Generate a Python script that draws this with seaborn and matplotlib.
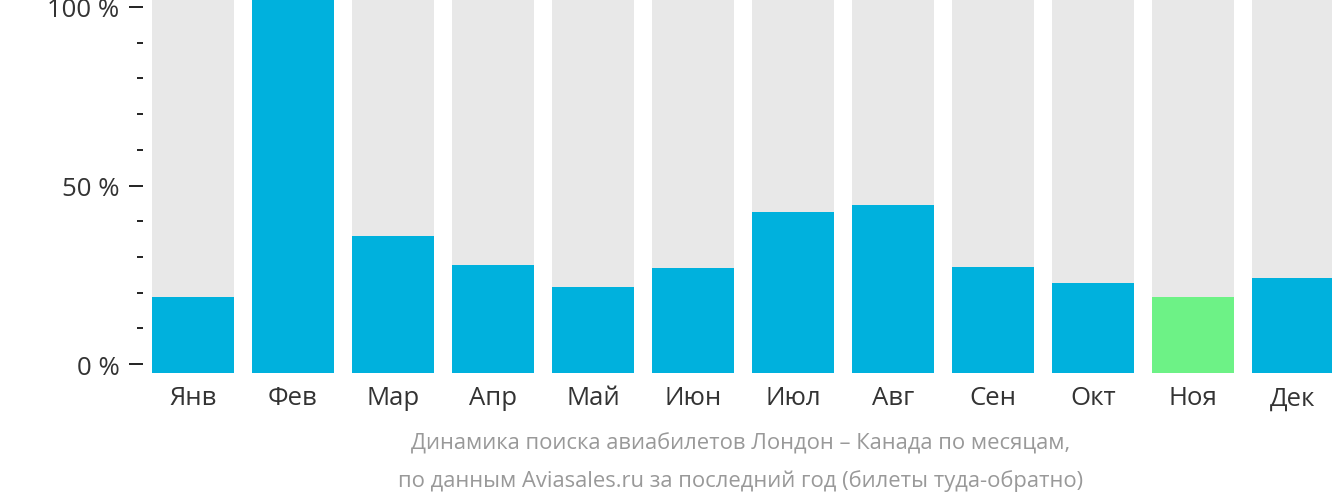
import matplotlib
matplotlib.use("Agg")
import matplotlib.pyplot as plt
import seaborn as sns
import pandas as pd
import numpy as np
from matplotlib.ticker import FuncFormatter, FixedLocator

months = ["Янв", "Фев", "Мар", "Апр", "Май", "Июн", "Июл", "Авг", "Сен", "Окт", "Ноя", "Дек"]
values = [18.8, 102.2, 35.9, 27.7, 21.6, 26.9, 42.6, 44.5, 27.2, 22.7, 18.8, 24.1]
highlight = ["base"] * 10 + ["low"] + ["base"]
title_lines = ["Динамика поиска авиабилетов Лондон – Канада по месяцам,",
               "по данным Aviasales.ru за последний год (билеты туда-обратно)"]

Y_MIN, Y_MAX = -2.52, 102.24
BLUE, GREEN, GREY = "#00B1DD", "#6DF286", "#E8E8E8"

sns.set_theme(style="white")
plt.rcParams['font.family'] = ['Open Sans', 'DejaVu Sans']

df = pd.DataFrame({"month": months, "value": values, "kind": highlight})
df["shown"] = df["value"] - Y_MIN
df["full"] = Y_MAX - Y_MIN

fig = plt.figure(figsize=(13.32, 5.02), dpi=100)
ax = fig.add_axes([143 / 1332, 128 / 502, 1200 / 1332, 374 / 502])

sns.barplot(data=df, x="month", y="full", color=GREY, width=0.82, ax=ax,
            saturation=1, edgecolor="none", linewidth=0)
sns.barplot(data=df, x="month", y="shown", hue="kind", palette={"base": BLUE, "low": GREEN},
            width=0.82, ax=ax, saturation=1, edgecolor="none", linewidth=0, legend=False,
            dodge=False)

ax.set_xlim(-0.5, 11.5)
ax.set_ylim(0, Y_MAX - Y_MIN)
ax.yaxis.set_major_locator(FixedLocator([v - Y_MIN for v in (0, 50, 100)]))
ax.yaxis.set_minor_locator(FixedLocator([v - Y_MIN for v in range(10, 100, 10) if v != 50]))
ax.yaxis.set_major_formatter(FuncFormatter(lambda v, p: f"{round(v + Y_MIN):d} %"))
for s in ax.spines.values():
    s.set_visible(False)
ax.set_xlabel("")
ax.set_ylabel("")
ax.tick_params(axis="y", which="major", left=True, length=10, width=1.4, color="#222222",
               labelsize=18.5, labelcolor="#333333", pad=7)
ax.tick_params(axis="y", which="minor", left=True, length=4.5, width=1.4, color="#222222")
ax.tick_params(axis="x", bottom=False, labelsize=18.5, labelcolor="#333333", pad=3)

fig.text(741 / 1332, 1 - 444 / 502, title_lines[0], ha="center", va="center", fontsize=15.8, color="#999999")
fig.text(741 / 1332, 1 - 481 / 502, title_lines[1], ha="center", va="center", fontsize=15.8, color="#999999")

fig.savefig("out.png", dpi=100)
